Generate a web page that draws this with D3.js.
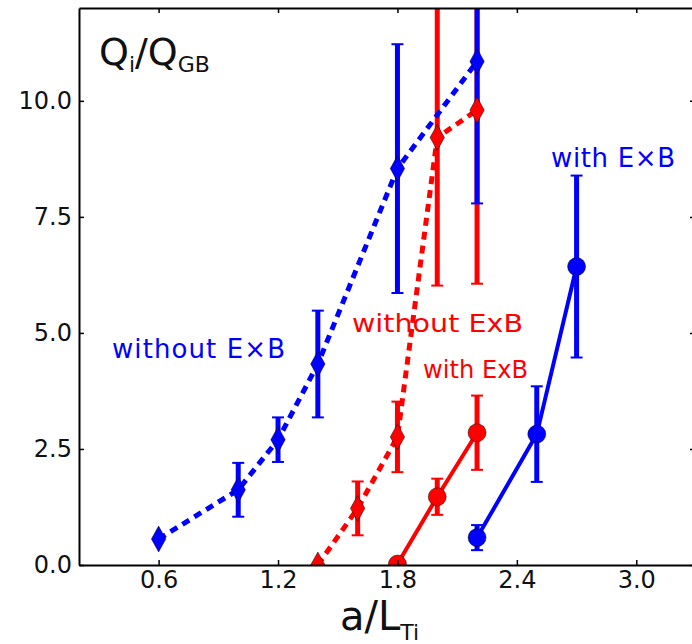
<!DOCTYPE html>
<html>
<head>
<meta charset="utf-8">
<script src="https://cdn.jsdelivr.net/npm/d3@7"></script>
<style>
  body { margin: 0; background: #fff; }
  text { font-family: "DejaVu Sans", sans-serif; }
</style>
</head>
<body>
<svg id="chart" width="692" height="644"></svg>
<script>
// ion heat flux vs a/L_Ti, with and without ExB shear

// without ExB (blue, dashed, diamonds)
let blueNoX = [0.6, 1.0, 1.2, 1.4, 1.8, 2.2];
let blueNoY = [0.56, 1.62, 2.70, 4.33, 8.54, 10.85];
let blueNoErr = [0, 0.58, 0.48, 1.15, 2.68, 3.06];

// without ExB (red, dashed, diamonds)
let redNoX = [1.4, 1.6, 1.8, 2.0, 2.2];
let redNoY = [0.0, 1.22, 2.76, 9.21, 9.80];
let redNoErr = [0, 0.58, 0.76, 3.19, 3.74];

// with ExB (red, solid, circles)
let redWithX = [1.8, 2.0, 2.2];
let redWithY = [0.02, 1.47, 2.85];
let redWithErr = [0, 0.39, 0.80];

// with ExB (blue, solid, circles)
let blueWithX = [2.2, 2.5, 2.7];
let blueWithY = [0.59, 2.82, 6.43];
let blueWithErr = [0.27, 1.03, 1.96];

let xTicks = [0.6, 1.2, 1.8, 2.4, 3.0];
let yTicks = [0, 2.5, 5, 7.5, 10];

let toPoints = (xs, ys, es) => xs.map((x, i) => ({ x: x, y: ys[i], e: es[i] }));

let series = [
  { color: '#ff0000', dashed: true,  marker: 'diamond', pts: toPoints(redNoX, redNoY, redNoErr) },
  { color: '#0000ff', dashed: true,  marker: 'diamond', pts: toPoints(blueNoX, blueNoY, blueNoErr) },
  { color: '#ff0000', dashed: false, marker: 'circle',  pts: toPoints(redWithX, redWithY, redWithErr) },
  { color: '#0000ff', dashed: false, marker: 'circle',  pts: toPoints(blueWithX, blueWithY, blueWithErr) }
];

let svg = d3.select('#chart');

let plotLeft = 79, plotRight = 696, plotTop = 8, plotBottom = 565;

let x = d3.scaleLinear().domain([0.2, 3.3]).range([plotLeft, plotRight]);
let y = d3.scaleLinear().domain([0, 12]).range([plotBottom, plotTop]);

svg.append('defs').append('clipPath').attr('id', 'plotClip')
  .append('rect')
  .attr('x', plotLeft).attr('y', plotTop)
  .attr('width', plotRight - plotLeft).attr('height', plotBottom - plotTop);

let plot = svg.append('g').attr('clip-path', 'url(#plotClip)');

let errLayer = plot.append('g');
let lineLayer = plot.append('g');
let markLayer = plot.append('g');

series.forEach((s) => {
  let withErr = s.pts.filter((p) => p.e > 0);

  let bars = errLayer.append('g').selectAll('g')
    .data(withErr)
    .enter()
    .append('g')
    .attr('stroke', s.color);

  bars.append('line')
    .attr('x1', (p) => x(p.x)).attr('x2', (p) => x(p.x))
    .attr('y1', (p) => y(p.y - p.e)).attr('y2', (p) => y(p.y + p.e))
    .attr('stroke-width', 5);

  [-1, 1].forEach((sign) => {
    bars.append('line')
      .attr('x1', (p) => x(p.x) - 6).attr('x2', (p) => x(p.x) + 6)
      .attr('y1', (p) => y(p.y + sign * p.e)).attr('y2', (p) => y(p.y + sign * p.e))
      .attr('stroke-width', 2);
  });

  let line = d3.line().x((p) => x(p.x)).y((p) => y(p.y));

  lineLayer.append('path')
    .attr('d', line(s.pts))
    .attr('fill', 'none')
    .attr('stroke', s.color)
    .attr('stroke-width', s.dashed ? 5 : 4)
    .attr('stroke-dasharray', s.dashed ? '8,6' : null);

  let marks = markLayer.append('g').selectAll('path')
    .data(s.pts)
    .enter();

  if (s.marker === 'diamond') {
    marks.append('path')
      .attr('d', 'M0,-13L7.2,0L0,13L-7.2,0Z')
      .attr('transform', (p) => 'translate(' + x(p.x) + ',' + y(p.y) + ')')
      .attr('fill', s.color)
      .attr('stroke', '#000')
      .attr('stroke-opacity', 0.6)
      .attr('stroke-width', 0.8);
  } else {
    marks.append('circle')
      .attr('cx', (p) => x(p.x))
      .attr('cy', (p) => y(p.y))
      .attr('r', 9)
      .attr('fill', s.color)
      .attr('stroke', '#000')
      .attr('stroke-opacity', 0.6)
      .attr('stroke-width', 0.8);
  }
});

// axes, ticks point inward
let styleAxis = (g) => {
  g.select('.domain').attr('stroke', '#000').attr('stroke-width', 2);
  g.selectAll('.tick line').attr('stroke', '#000').attr('stroke-width', 1.5);
  g.selectAll('.tick text').attr('font-size', 24).attr('fill', '#111')
    .attr('font-family', '"DejaVu Sans", sans-serif');
};

svg.append('g')
  .attr('transform', 'translate(0,' + plotBottom + ')')
  .call(d3.axisBottom(x).tickValues(xTicks).tickFormat(d3.format('.1f'))
    .tickSize(-5).tickSizeOuter(0).tickPadding(6))
  .call(styleAxis);

svg.append('g')
  .attr('transform', 'translate(0,' + plotTop + ')')
  .call(d3.axisTop(x).tickValues(xTicks).tickFormat('')
    .tickSize(-5).tickSizeOuter(0))
  .call(styleAxis);

svg.append('g')
  .attr('transform', 'translate(' + plotLeft + ',0)')
  .call(d3.axisLeft(y).tickValues(yTicks).tickFormat(d3.format('.1f'))
    .tickSize(-5).tickSizeOuter(0).tickPadding(7))
  .call(styleAxis);

svg.append('g')
  .attr('transform', 'translate(' + plotRight + ',0)')
  .call(d3.axisRight(y).tickValues(yTicks).tickFormat('')
    .tickSize(-6).tickSizeOuter(0))
  .call(styleAxis);

// axis titles
let yTitle = svg.append('text')
  .attr('x', 99).attr('y', 65)
  .attr('font-family', 'Lato, sans-serif')
  .attr('font-size', 38)
  .attr('fill', '#111');
yTitle.append('tspan').text('Q');
yTitle.append('tspan').attr('font-size', 22).attr('dy', 7).text('i');
yTitle.append('tspan').attr('dy', -7).text('/Q');
yTitle.append('tspan').attr('font-size', 22).attr('dy', 7).text('GB');

let xTitle = svg.append('text')
  .attr('x', 340).attr('y', 630)
  .attr('font-family', 'Lato, sans-serif')
  .attr('font-size', 40)
  .attr('fill', '#111');
xTitle.append('tspan').text('a/L');
xTitle.append('tspan').attr('font-size', 22).attr('dy', 10).text('Ti');

// annotations
svg.append('text')
  .attr('x', 112).attr('y', 358)
  .attr('font-size', 26).attr('fill', '#0000ff')
  .attr('textLength', 173)
  .text('without E\u00d7B');

svg.append('text')
  .attr('x', 551).attr('y', 167)
  .attr('font-size', 26).attr('fill', '#0000ff')
  .attr('textLength', 124)
  .text('with E\u00d7B');

svg.append('text')
  .attr('x', 352).attr('y', 332)
  .attr('font-family', 'Lato, sans-serif')
  .attr('font-size', 25).attr('fill', '#ff0000')
  .attr('textLength', 171).attr('lengthAdjust', 'spacingAndGlyphs')
  .text('without ExB');

svg.append('text')
  .attr('x', 423).attr('y', 378)
  .attr('font-family', 'Lato, sans-serif')
  .attr('font-size', 25).attr('fill', '#ff0000')
  .attr('textLength', 105).attr('lengthAdjust', 'spacingAndGlyphs')
  .text('with ExB');
</script>
</body>
</html>
